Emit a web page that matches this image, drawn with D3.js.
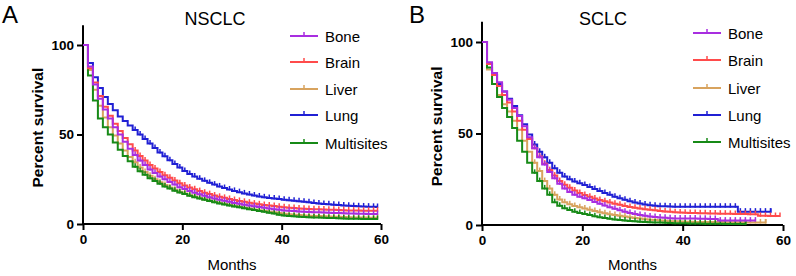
<!DOCTYPE html>
<html>
<head>
<meta charset="utf-8">
<script src="https://cdn.jsdelivr.net/npm/d3@7"></script>
<style>
  html, body { margin: 0; padding: 0; background: #fff; }
  svg { display: block; font-family: "Liberation Sans", Arial, sans-serif; }
</style>
</head>
<body>
<svg id="chart" width="796" height="276"></svg>
<script>
const groups = ["Bone", "Brain", "Liver", "Lung", "Multisites"];
const colors = ["#a82ee0", "#ff4b4b", "#d8a35e", "#2020d4", "#178a17"];
const xTicks = [0, 20, 40, 60];
const yTicks = [0, 50, 100];

// NSCLC, percent surviving at start of each month (0..59)
const nsclcBone = [100, 88, 78, 70, 64, 59, 54, 50, 46, 42, 38.5, 35.5, 33, 30.5, 28.5, 26.5, 25, 23.5, 22, 20.5,
  19.5, 18.5, 17.5, 16.6, 15.8, 15, 14.3, 13.6, 13, 12.4, 11.8, 11.3, 10.8, 10.3, 9.9, 9.5, 9.1, 8.7, 8.3, 8,
  7.6, 7.4, 7.2, 7, 6.8, 6.7, 6.6, 6.5, 6.4, 6.3, 6.2, 6.1, 6, 5.9, 5.8, 5.7, 5.7, 5.6, 5.6, 5.6];
const nsclcBrain = [100, 87, 79, 71.5, 65.5, 60.5, 56, 52, 48, 44.5, 41, 38, 35.5, 33, 31, 29, 27.3, 25.8, 24.3, 22.8,
  21.5, 20.4, 19.4, 18.4, 17.5, 16.7, 15.9, 15.2, 14.6, 14, 13.4, 12.9, 12.4, 11.9, 11.4, 11, 10.6, 10.3, 10, 9.6,
  9.3, 9.1, 8.9, 8.7, 8.5, 8.4, 8.3, 8.2, 8.1, 8, 7.9, 7.8, 7.7, 7.6, 7.5, 7.5, 7.4, 7.4, 7.4, 7.4];
const nsclcLiver = [100, 86, 75, 66, 59.5, 54, 49.5, 45, 41, 37.5, 34.5, 31.5, 29, 27, 25, 23.3, 21.8, 20.4, 19.1, 18,
  17, 16.1, 15.3, 14.5, 13.8, 13.1, 12.4, 11.8, 11.2, 10.6, 10.1, 9.6, 9.1, 8.6, 8.1, 7.7, 7.3, 6.9, 6.5, 6.1,
  5.7, 5.4, 5.2, 5, 4.8, 4.6, 4.5, 4.4, 4.3, 4.2, 4.1, 4, 3.9, 3.8, 3.7, 3.6, 3.6, 3.5, 3.5, 3.5];
const nsclcLung = [100, 90, 82, 76, 71, 67, 63.5, 60, 57.5, 55, 52.5, 50, 47.5, 45, 42.5, 40, 37.8, 35.6, 33.5, 31.5,
  29.6, 28, 26.6, 25.3, 24.1, 23, 22, 21, 20.1, 19.3, 18.5, 17.8, 17.1, 16.5, 15.9, 15.4, 14.9, 14.5, 14.2, 13.9,
  13.6, 13.3, 13, 12.7, 12.4, 12.1, 11.8, 11.5, 11.2, 11, 10.8, 10.6, 10.4, 10.2, 10, 9.9, 9.8, 9.7, 9.6, 9.5];
const nsclcMulti = [100, 83, 69, 59, 54, 50, 45.5, 41.5, 38, 35, 32, 29.5, 27.5, 25.5, 24, 22.5, 21, 19.8, 18.6, 17.6,
  16.7, 15.8, 15, 14.2, 13.5, 12.8, 12.1, 11.5, 10.9, 10.3, 9.8, 9.3, 8.8, 8.3, 7.8, 7.3, 6.8, 6.3, 5.8, 5.2,
  4.7, 4.5, 4.3, 4.1, 3.9, 3.8, 3.7, 3.6, 3.5, 3.4, 3.3, 3.2, 3.1, 3, 2.9, 2.9, 2.8, 2.8, 2.8, 2.8];
const nsclcEnd = [59.3, 59.3, 59.3, 59.3, 59.3];

// SCLC
const sclcBone = [100, 89, 83, 78, 73, 68.5, 64, 59.5, 54, 48, 42, 37, 33, 29, 25.5, 22.5, 20, 18, 16.5, 15.5,
  14.6, 13.6, 12.6, 11.6, 10.6, 9.7, 8.9, 8.1, 7.3, 6.6, 6, 5.5, 5.1, 4.7, 4.4, 4.1, 3.9, 3.7, 3.6, 3.6,
  3.6, 3.5, 3.5, 3.4, 3.4, 3.3, 3.3, 2.4, 2.4, 2.4, 2.4, 2.4, 2.4, 2.4, 2.4];
const sclcBrain = [100, 88, 82, 76, 71, 67, 62, 57, 52, 47, 42, 37.5, 33.5, 30, 27, 24, 22, 20.3, 18.8, 17.5,
  16.4, 15.4, 14.5, 13.7, 13, 12.3, 11.6, 11, 10.4, 9.9, 9.4, 9, 8.6, 8.3, 8, 7.7, 7.4, 7.2, 7, 6.8,
  6.7, 6.6, 6.5, 6.4, 6.4, 6.3, 6.3, 6.2, 6.2, 6.1, 6, 6, 6, 5.9, 5.9, 5, 5, 4.9, 4.9, 4.9];
const sclcLiver = [100, 85, 77, 71, 66, 62, 57, 52, 46, 40, 34, 29.5, 24, 20, 16.5, 14, 12.5, 11.3, 10.4, 9.7,
  9, 8.3, 7.6, 7, 6.4, 5.9, 5.4, 5, 4.6, 4.2, 3.8, 3.5, 3.2, 2.9, 2.7, 2.5, 2.3, 2.1, 2, 1.9,
  1.8, 1.8, 1.7, 1.7, 1.7, 1.6, 1.6, 1.6, 1.5, 1.5, 1.5, 1.5, 1.4, 1.4, 1.4, 1.4, 1.4];
const sclcLung = [100, 88, 82, 77, 73, 69, 65, 60, 55, 49.5, 44, 40, 37, 34, 31, 28.5, 26.5, 25, 23.8, 22.8,
  21.9, 20.8, 19.7, 18.6, 17.5, 16.5, 15.5, 14.6, 13.8, 13, 12.3, 11.7, 11.2, 10.8, 10.5, 10.3, 10.2, 10.1, 10, 10,
  10, 10, 10, 10, 10, 10, 10, 10, 10, 10, 10, 7.3, 7.3, 7.3, 7.3, 7.3, 7.3, 7.3];
const sclcMulti = [100, 86, 77, 70, 64, 59, 53, 46, 40, 34, 28.5, 24, 20, 16.5, 12.5, 10.5, 9.2, 8.2, 7.3, 6.6,
  6, 5.4, 4.8, 4.3, 3.8, 3.4, 3, 2.7, 2.4, 2.2, 2, 1.8, 1.6, 1.5, 1.4, 1.3, 1.2, 1.1, 1, 0.95,
  0.9, 0.85, 0.8, 0.8, 0.75, 0.7, 0.7, 0.65, 0.6, 0.6, 0.55, 0.5, 0.5];
const sclcEnd = [54.5, 59.4, 56.6, 57.6, 52.6];

const panels = [
  { letter: "A", title: "NSCLC", series: [nsclcBone, nsclcBrain, nsclcLiver, nsclcLung, nsclcMulti], ends: nsclcEnd,
    x0: 83, x1: 381, y0: 224, y100: 45, lx: 290, ly: [36, 62, 89, 115, 143], lettX: 2, titleX: 215 },
  { letter: "B", title: "SCLC", series: [sclcBone, sclcBrain, sclcLiver, sclcLung, sclcMulti], ends: sclcEnd,
    x0: 482, x1: 783, y0: 225, y100: 42, lx: 693, ly: [33, 60, 88, 115, 142], lettX: 409, titleX: 603 }
];

const svg = d3.select("#chart");
const drawOrder = [3, 2, 4, 1, 0];

panels.forEach((p) => {
  const x = d3.scaleLinear().domain([0, 60]).range([p.x0, p.x1]);
  const y = d3.scaleLinear().domain([0, 100]).range([p.y0, p.y100]);
  const yTop = y(111);
  const g = svg.append("g");

  g.append("text").attr("x", p.lettX).attr("y", 23)
    .attr("font-size", 24).text(p.letter);
  g.append("text").attr("x", p.titleX).attr("y", 25).attr("text-anchor", "middle")
    .attr("font-size", 18).text(p.title);

  // axes
  g.append("line").attr("x1", p.x0).attr("x2", p.x0).attr("y1", yTop).attr("y2", p.y0 + 1)
    .attr("stroke", "#000").attr("stroke-width", 2);
  g.append("line").attr("x1", p.x0 - 1).attr("x2", p.x1).attr("y1", p.y0).attr("y2", p.y0)
    .attr("stroke", "#000").attr("stroke-width", 2);

  const yAxis = g.append("g").attr("transform", `translate(${p.x0},0)`)
    .call(d3.axisLeft(y).tickValues(yTicks).tickSize(6).tickPadding(3));
  const xAxis = g.append("g").attr("transform", `translate(0,${p.y0})`)
    .call(d3.axisBottom(x).tickValues(xTicks).tickSize(6).tickPadding(4));
  [yAxis, xAxis].forEach((a) => {
    a.select(".domain").remove();
    a.selectAll("line").attr("stroke", "#000").attr("stroke-width", 2);
    a.selectAll("text").attr("font-size", 13.5).attr("font-weight", "bold").attr("fill", "#000")
      .attr("font-family", "Liberation Sans, Arial, sans-serif");
  });

  g.append("text").attr("x", (p.x0 + p.x1) / 2).attr("y", 270).attr("text-anchor", "middle")
    .attr("font-size", 15).text("Months");
  g.append("text").attr("transform", `translate(${p.x0 - 40},${(p.y0 + yTop) / 2 + 3}) rotate(-90)`)
    .attr("text-anchor", "middle").attr("font-size", 15.5).attr("font-weight", "bold")
    .text("Percent survival");

  // survival curves
  const line = d3.line().x((d) => x(d[0])).y((d) => y(d[1])).curve(d3.curveStepAfter);
  drawOrder.forEach((k) => {
    const vals = p.series[k];
    const pts = vals.map((v, i) => [i, v]);
    pts.push([p.ends[k], vals[vals.length - 1]]);
    g.append("path").attr("d", line(pts)).attr("fill", "none")
      .attr("stroke", colors[k]).attr("stroke-width", 2);
    const marks = vals.map((v, i) => [i + 0.5, v]).filter((d) => d[0] > 10 && d[0] < p.ends[k]);
    marks.push([p.ends[k], vals[vals.length - 1]]);
    g.append("g").selectAll("line").data(marks).join("line")
      .attr("x1", (d) => x(d[0])).attr("x2", (d) => x(d[0]))
      .attr("y1", (d) => y(d[1]) - 3.5).attr("y2", (d) => y(d[1]) + 1)
      .attr("stroke", colors[k]).attr("stroke-width", 1.5);
  });

  // legend
  groups.forEach((name, k) => {
    const ly = p.ly[k];
    g.append("line").attr("x1", p.lx).attr("x2", p.lx + 28).attr("y1", ly).attr("y2", ly)
      .attr("stroke", colors[k]).attr("stroke-width", 2);
    g.append("line").attr("x1", p.lx + 14).attr("x2", p.lx + 14).attr("y1", ly - 4).attr("y2", ly)
      .attr("stroke", colors[k]).attr("stroke-width", 1.5);
    g.append("text").attr("x", p.lx + 35).attr("y", ly + 5.5).attr("font-size", 15).text(name);
  });
});
</script>
</body>
</html>
